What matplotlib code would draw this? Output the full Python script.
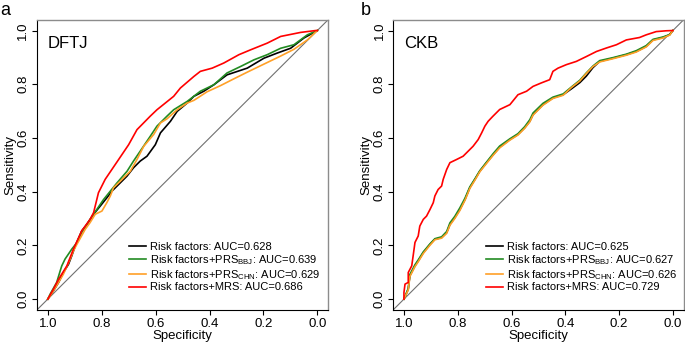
import matplotlib
matplotlib.use("Agg")
import matplotlib.pyplot as plt

plt.rcParams['font.family'] = ['Liberation Sans', 'DejaVu Sans']
plt.rcParams['mathtext.fontset'] = 'custom'
plt.rcParams['mathtext.rm'] = 'Liberation Sans'
plt.rcParams['mathtext.it'] = 'Liberation Sans:italic'
plt.rcParams['mathtext.bf'] = 'Liberation Sans:bold'

# ---- panel a: DFTJ (specificity, sensitivity) ----
dftj_rf_spec = [1.000, 0.979, 0.960, 0.942, 0.923, 0.911, 0.898, 0.874, 0.855, 0.830,
                0.805, 0.781, 0.762, 0.737, 0.706, 0.682, 0.657, 0.632, 0.601, 0.582,
                0.545, 0.520, 0.483, 0.458, 0.421, 0.384, 0.335, 0.260, 0.198, 0.149,
                0.099, 0.050, 0.000]
dftj_rf_sens = [0.000, 0.031, 0.062, 0.099, 0.130, 0.161, 0.198, 0.254, 0.278, 0.316,
                0.347, 0.377, 0.402, 0.427, 0.458, 0.489, 0.514, 0.532, 0.575, 0.619,
                0.662, 0.699, 0.730, 0.755, 0.774, 0.798, 0.835, 0.860, 0.897, 0.916,
                0.934, 0.972, 1.000]

dftj_bbj_spec = [1.000, 0.991, 0.967, 0.954, 0.948, 0.936, 0.911, 0.892, 0.874, 0.843,
                 0.818, 0.793, 0.768, 0.743, 0.706, 0.682, 0.657, 0.620, 0.595, 0.558,
                 0.533, 0.483, 0.434, 0.384, 0.335, 0.285, 0.235, 0.186, 0.136, 0.087,
                 0.037, 0.000]
dftj_bbj_sens = [0.000, 0.019, 0.062, 0.105, 0.124, 0.149, 0.186, 0.210, 0.248, 0.297,
                 0.334, 0.371, 0.402, 0.433, 0.476, 0.514, 0.551, 0.606, 0.644, 0.681,
                 0.705, 0.736, 0.774, 0.798, 0.842, 0.866, 0.891, 0.910, 0.934, 0.947,
                 0.984, 1.000]

dftj_chn_spec = [1.000, 0.991, 0.967, 0.942, 0.917, 0.905, 0.892, 0.861, 0.843, 0.824,
                 0.799, 0.781, 0.768, 0.756, 0.731, 0.694, 0.669, 0.644, 0.607, 0.582,
                 0.558, 0.520, 0.483, 0.458, 0.409, 0.359, 0.310, 0.260, 0.198, 0.136,
                 0.087, 0.037, 0.000]
dftj_chn_sens = [0.000, 0.012, 0.050, 0.093, 0.149, 0.179, 0.204, 0.260, 0.285, 0.316,
                 0.328, 0.359, 0.384, 0.415, 0.439, 0.476, 0.520, 0.569, 0.613, 0.656,
                 0.671, 0.705, 0.730, 0.740, 0.772, 0.795, 0.820, 0.845, 0.875, 0.905,
                 0.930, 0.965, 1.000]

dftj_mrs_spec = [1.000, 0.979, 0.960, 0.929, 0.905, 0.874, 0.843, 0.830, 0.812, 0.787,
                 0.762, 0.737, 0.700, 0.669, 0.620, 0.595, 0.533, 0.508, 0.458, 0.434,
                 0.390, 0.347, 0.291, 0.248, 0.186, 0.136, 0.062, 0.006, 0.000]
dftj_mrs_sens = [0.000, 0.037, 0.074, 0.124, 0.186, 0.254, 0.297, 0.322, 0.396, 0.446,
                 0.483, 0.520, 0.575, 0.631, 0.681, 0.705, 0.755, 0.786, 0.829, 0.848,
                 0.860, 0.879, 0.910, 0.928, 0.953, 0.978, 0.993, 1.000, 1.000]

# ---- panel b: CKB ----
ckb_rf_spec = [1.000, 0.984, 0.978, 0.959, 0.947, 0.928, 0.903, 0.885, 0.860, 0.841,
               0.829, 0.811, 0.792, 0.773, 0.755, 0.736, 0.718, 0.693, 0.668, 0.644,
               0.606, 0.576, 0.551, 0.532, 0.520, 0.483, 0.446, 0.408, 0.377, 0.346,
               0.322, 0.297, 0.272, 0.223, 0.173, 0.136, 0.099, 0.074, 0.037, 0.012,
               0.000]
ckb_rf_sens = [0.000, 0.037, 0.087, 0.124, 0.142, 0.173, 0.204, 0.223, 0.229, 0.248,
               0.278, 0.303, 0.334, 0.371, 0.415, 0.446, 0.476, 0.508, 0.538, 0.566,
               0.594, 0.613, 0.638, 0.662, 0.687, 0.724, 0.749, 0.761, 0.783, 0.806,
               0.830, 0.862, 0.885, 0.897, 0.910, 0.922, 0.941, 0.965, 0.974, 0.984,
               1.000]

ckb_bbj_spec = [1.000, 0.984, 0.978, 0.959, 0.947, 0.928, 0.903, 0.885, 0.860, 0.841,
                0.829, 0.811, 0.792, 0.773, 0.755, 0.736, 0.718, 0.693, 0.668, 0.644,
                0.606, 0.576, 0.551, 0.532, 0.520, 0.483, 0.446, 0.408, 0.377, 0.346,
                0.322, 0.297, 0.272, 0.223, 0.173, 0.136, 0.099, 0.074, 0.037, 0.012,
                0.000]
ckb_bbj_sens = [0.000, 0.040, 0.092, 0.128, 0.146, 0.176, 0.206, 0.225, 0.232, 0.252,
                0.284, 0.308, 0.340, 0.376, 0.418, 0.448, 0.478, 0.510, 0.542, 0.570,
                0.597, 0.616, 0.642, 0.668, 0.693, 0.729, 0.752, 0.764, 0.790, 0.815,
                0.842, 0.868, 0.888, 0.899, 0.912, 0.925, 0.944, 0.967, 0.976, 0.985,
                1.000]

ckb_chn_spec = [1.000, 0.984, 0.978, 0.959, 0.947, 0.928, 0.903, 0.885, 0.860, 0.841,
                0.829, 0.811, 0.792, 0.773, 0.755, 0.736, 0.718, 0.693, 0.668, 0.644,
                0.606, 0.576, 0.551, 0.532, 0.520, 0.483, 0.446, 0.408, 0.377, 0.346,
                0.322, 0.297, 0.272, 0.223, 0.173, 0.136, 0.099, 0.074, 0.037, 0.012,
                0.000]
ckb_chn_sens = [0.000, 0.034, 0.084, 0.121, 0.139, 0.170, 0.201, 0.221, 0.227, 0.245,
                0.275, 0.300, 0.330, 0.368, 0.412, 0.443, 0.474, 0.505, 0.536, 0.563,
                0.592, 0.611, 0.636, 0.660, 0.685, 0.722, 0.747, 0.759, 0.788, 0.812,
                0.840, 0.866, 0.883, 0.895, 0.908, 0.920, 0.939, 0.963, 0.972, 0.983,
                1.000]

ckb_mrs_spec = [1.000, 1.000, 0.996, 0.984, 0.984, 0.971, 0.965, 0.959, 0.947, 0.941,
                0.928, 0.916, 0.903, 0.891, 0.885, 0.873, 0.860, 0.854, 0.841, 0.829,
                0.804, 0.780, 0.761, 0.743, 0.724, 0.711, 0.699, 0.687, 0.670, 0.644,
                0.606, 0.576, 0.544, 0.520, 0.489, 0.458, 0.446, 0.427, 0.396, 0.359,
                0.322, 0.284, 0.247, 0.210, 0.173, 0.124, 0.099, 0.062, 0.025, 0.000]
ckb_mrs_sens = [0.000, 0.025, 0.056, 0.062, 0.099, 0.124, 0.167, 0.211, 0.235, 0.272,
                0.297, 0.309, 0.334, 0.359, 0.384, 0.408, 0.421, 0.446, 0.483, 0.508,
                0.520, 0.532, 0.551, 0.569, 0.594, 0.619, 0.644, 0.662, 0.680, 0.706,
                0.724, 0.761, 0.774, 0.792, 0.805, 0.817, 0.848, 0.860, 0.873, 0.885,
                0.903, 0.922, 0.935, 0.947, 0.965, 0.974, 0.984, 0.996, 0.999, 1.000]

dftj_auc = [0.628, 0.639, 0.629, 0.686]
ckb_auc = [0.625, 0.627, 0.626, 0.729]

colors = ['black', '#228B22', '#FFA028', '#FF0000']
model_names = ['Risk factors', r'Risk factors+PRS$_{\mathrm{BBJ}}$',
               r'Risk factors+PRS$_{\mathrm{CHN}}$', 'Risk factors+MRS']


def draw_panel(ax, curves, aucs, cohort, legend_x):
    ax.axline((1, 0), (0, 1), color='#707070', lw=0.8, zorder=1)
    for (spec, sens), c, name, auc in zip(curves, colors, model_names, aucs):
        ax.plot(spec, sens, color=c, lw=1.2, label=f'{name}: AUC={auc:.3f}', zorder=2)
    ax.set_xlim(1.04, -0.04)
    ax.set_ylim(-0.04, 1.04)
    ticks = [1.0, 0.8, 0.6, 0.4, 0.2, 0.0]
    ax.set_xticks(ticks)
    ax.set_yticks(ticks)
    ax.set_xticklabels([f'{t:.1f}' for t in ticks])
    ax.set_yticklabels([f'{t:.1f}' for t in ticks], rotation=90, va='center')
    ax.tick_params(direction='out', length=3.5, width=0.8, labelsize=9.5, pad=2)
    ax.set_xlabel('Specificity', fontsize=9.5, labelpad=0)
    ax.set_ylabel('Sensitivity', fontsize=9.5, labelpad=1)
    for side in ['top', 'right']:
        ax.spines[side].set_color('#8c8c8c')
        ax.spines[side].set_linewidth(1.0)
    for side in ['left', 'bottom']:
        ax.spines[side].set_color('black')
        ax.spines[side].set_linewidth(0.8)
    ax.text(1.0, 0.95, cohort, ha='left', va='center', fontsize=12)
    ax.legend(loc='lower left', bbox_to_anchor=(legend_x, 0.06), frameon=False,
              fontsize=8, handlelength=1.5, handletextpad=0.35, labelspacing=0.08,
              borderpad=0, borderaxespad=0)


fig = plt.figure(figsize=(6.85, 3.47), dpi=100)
ax1 = fig.add_axes([0.054, 0.107, 0.425, 0.836])
ax2 = fig.add_axes([0.574, 0.107, 0.424, 0.836])

draw_panel(ax1, [(dftj_rf_spec, dftj_rf_sens), (dftj_bbj_spec, dftj_bbj_sens),
                 (dftj_chn_spec, dftj_chn_sens), (dftj_mrs_spec, dftj_mrs_sens)],
           dftj_auc, 'DFTJ', 0.316)
draw_panel(ax2, [(ckb_rf_spec, ckb_rf_sens), (ckb_bbj_spec, ckb_bbj_sens),
                 (ckb_chn_spec, ckb_chn_sens), (ckb_mrs_spec, ckb_mrs_sens)],
           ckb_auc, 'CKB', 0.32)

fig.text(0.0, 0.995, 'a', fontsize=13, ha='left', va='top')
fig.text(0.527, 0.995, 'b', fontsize=13, ha='left', va='top')

fig.savefig('out.png', dpi=100)
